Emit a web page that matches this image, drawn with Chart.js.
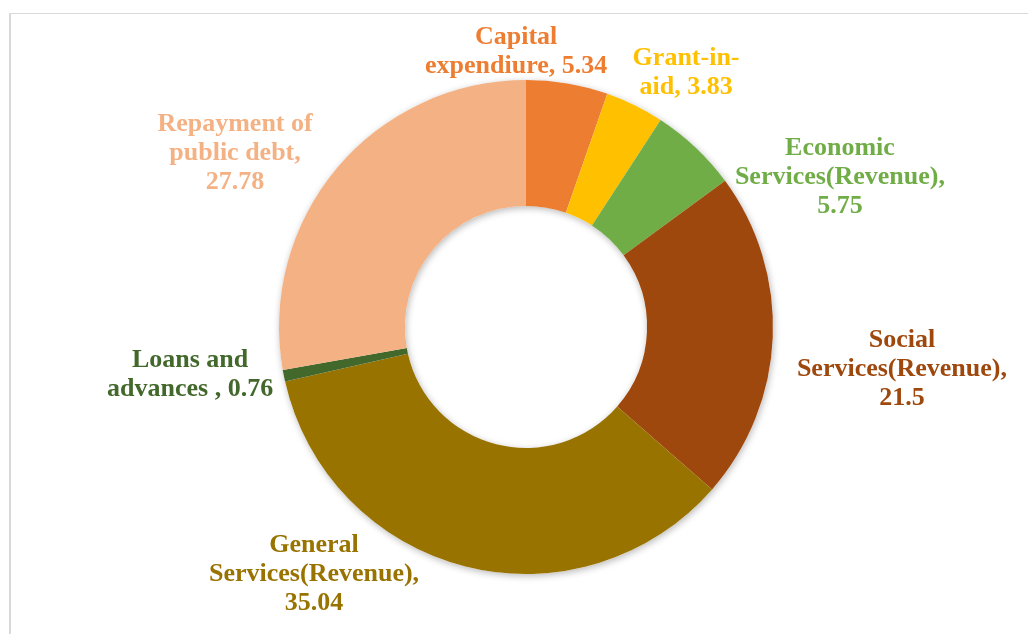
<!DOCTYPE html>
<html>
<head>
<meta charset="utf-8">
<script src="https://cdn.jsdelivr.net/npm/chart.js@4.4.1/dist/chart.umd.min.js"></script>
<style>
  html, body { margin: 0; padding: 0; background: #fff; }
  body { width: 1028px; height: 634px; position: relative; overflow: hidden; }
  #frame { position: absolute; left: 9px; top: 13px; width: 1100px; height: 700px;
           border-top: 1px solid #d9d9d9; border-left: 2px solid #d9d9d9; }
  #wrap { position: absolute; left: 0; top: 0; width: 1028px; height: 634px; }
</style>
</head>
<body>
<div id="frame"></div>
<div id="wrap"><canvas id="pieChart"></canvas></div>
<script>
const categories = [
    'Capital expendiure',
    'Grant-in-aid',
    'Economic Services(Revenue)',
    'Social Services(Revenue)',
    'General Services(Revenue)',
    'Loans and advances ',
    'Repayment of public debt'
];
const shares = [5.34, 3.83, 5.75, 21.5, 35.04, 0.76, 27.78];
const sliceColors = ['#ED7D31', '#FFC000', '#70AD47', '#9E480E', '#997300', '#43682B', '#F4B183'];

// label text lines, the way they wrap in the original
const labelLines = [
    ['Capital', 'expendiure, 5.34'],
    ['Grant-in-', 'aid, 3.83'],
    ['Economic', 'Services(Revenue),', '5.75'],
    ['Social', 'Services(Revenue),', '21.5'],
    ['General', 'Services(Revenue),', '35.04'],
    ['Loans and', 'advances , 0.76'],
    ['Repayment of', 'public debt,', '27.78']
];
// label centres, in units of the outer radius from the doughnut centre
const labelSpots = [
    [-0.04, -1.113], [0.648, -1.03], [1.271, -0.607], [1.522, 0.17],
    [-0.858, 1.0], [-1.36, 0.194], [-1.178, -0.704]
];

// soft shadow under the ring, like the office chart
const ringShadow = {
    id: 'ringShadow',
    beforeDatasetsDraw(chart) {
        const arc0 = chart.getDatasetMeta(0).data[0];
        if (!arc0) return;
        const ctx = chart.ctx;
        ctx.save();
        ctx.shadowColor = 'rgba(0,0,0,0.28)';
        ctx.shadowBlur = 7;
        ctx.shadowOffsetX = 1;
        ctx.shadowOffsetY = 2;
        ctx.fillStyle = '#fff';
        ctx.beginPath();
        ctx.arc(arc0.x, arc0.y, arc0.outerRadius, 0, Math.PI * 2);
        ctx.arc(arc0.x, arc0.y, arc0.innerRadius, Math.PI * 2, 0, true);
        ctx.fill('evenodd');
        ctx.restore();
    }
};

const sliceLabels = {
    id: 'sliceLabels',
    afterDraw(chart) {
        const ctx = chart.ctx;
        const arc0 = chart.getDatasetMeta(0).data[0];
        const cx = arc0.x, cy = arc0.y, r = arc0.outerRadius;
        ctx.save();
        ctx.font = 'bold 26px "Liberation Serif", "Times New Roman", serif';
        ctx.textAlign = 'center';
        ctx.textBaseline = 'middle';
        labelLines.forEach((lines, i) => {
            ctx.fillStyle = sliceColors[i];
            const x = cx + labelSpots[i][0] * r;
            const y = cy + labelSpots[i][1] * r;
            const lh = 28.8;
            const top = y - (lines.length - 1) * lh / 2;
            lines.forEach((t, j) => ctx.fillText(t, x, top + j * lh));
        });
        ctx.restore();
    }
};

const ctx = document.getElementById('pieChart').getContext('2d');
new Chart(ctx, {
    type: 'doughnut',
    data: {
        labels: categories,
        datasets: [{
            data: shares,
            backgroundColor: sliceColors,
            borderWidth: 0
        }]
    },
    options: {
        responsive: true,
        maintainAspectRatio: false,
        animation: false,
        cutout: '49%',
        layout: { padding: { top: 80, bottom: 60, left: 200, right: 176 } },
        plugins: {
            legend: { display: false },
            tooltip: { enabled: false }
        }
    },
    plugins: [ringShadow, sliceLabels]
});
</script>
</body>
</html>
